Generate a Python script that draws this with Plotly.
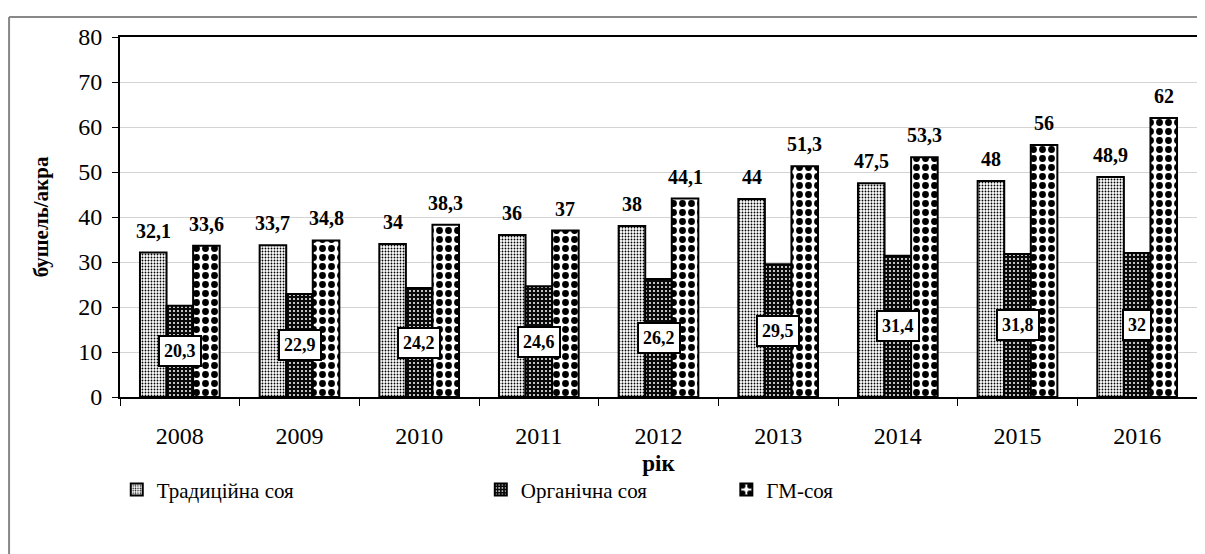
import plotly.graph_objects as go

years = ["2008", "2009", "2010", "2011", "2012", "2013", "2014", "2015", "2016"]
traditional = [32.1, 33.7, 34.0, 36.0, 38.0, 44.0, 47.5, 48.0, 48.9]
organic = [20.3, 22.9, 24.2, 24.6, 26.2, 29.5, 31.4, 31.8, 32.0]
gm = [33.6, 34.8, 38.3, 37.0, 44.1, 51.3, 53.3, 56.0, 62.0]
series_names = ["Традиційна соя", "Органічна соя", "ГМ-соя"]
y_ticks = [0, 10, 20, 30, 40, 50, 60, 70, 80]

FONT = "Liberation Serif"


def fmt(v):
    s = ("%g" % v)
    return s.replace(".", ",")


fig = go.Figure()

patterns = [
    dict(shape=".", size=3, solidity=0.3, fgcolor="black", bgcolor="white", fillmode="replace"),
    dict(shape=".", size=4, solidity=0.2, fgcolor="white", bgcolor="#0a0a0a", fillmode="replace"),
    dict(shape=".", size=9, solidity=0.45, fgcolor="black", bgcolor="white", fillmode="replace"),
]
data = [traditional, organic, gm]
legends = ["legend", "legend2", "legend3"]

for name, vals, pat, lg in zip(series_names, data, patterns, legends):
    fig.add_trace(go.Bar(
        x=years, y=vals, name=name, legend=lg, showlegend=True,
        marker=dict(color="white", pattern=pat, line=dict(color="black", width=2)),
        hoverinfo="skip",
    ))

bargap = 0.334
bar_px = 1077 / len(years) * (1 - bargap) / 3

annotations = []
for i, (t, o, g) in enumerate(zip(traditional, organic, gm)):
    annotations.append(dict(x=i, y=t, text="<b>%s</b>" % fmt(t), showarrow=False,
                            xshift=-bar_px, yshift=22, yanchor="middle",
                            font=dict(family=FONT, size=20, color="black")))
    annotations.append(dict(x=i, y=g, text="<b>%s</b>" % fmt(g), showarrow=False,
                            xshift=bar_px, yshift=22, yanchor="middle",
                            font=dict(family=FONT, size=20, color="black")))
    annotations.append(dict(x=i, y=o / 2, text="<b>%s</b>" % fmt(o), showarrow=False,
                            yanchor="middle", bgcolor="white", bordercolor="black",
                            borderwidth=2, borderpad=4,
                            font=dict(family=FONT, size=18, color="black")))

legend_common = dict(orientation="h", yanchor="middle", xanchor="left",
                     font=dict(family=FONT, size=21, color="black"),
                     bgcolor="rgba(0,0,0,0)", itemwidth=30)

# page body has an 8px margin, so the figure is laid out 8px smaller/offset
fig.update_layout(
    width=1197, height=546,
    margin=dict(l=112, r=8, t=29, b=157),
    paper_bgcolor="white", plot_bgcolor="white",
    barmode="group", bargap=bargap, bargroupgap=0,
    font=dict(family=FONT, size=20, color="black"),
    annotations=annotations,
    showlegend=True,
    legend=dict(x=-0.003, y=-0.258, **legend_common),
    legend2=dict(x=0.335, y=-0.258, **legend_common),
    legend3=dict(x=0.563, y=-0.258, **legend_common),
    xaxis=dict(
        type="category", range=[-0.5, len(years) - 0.5], autorange=False,
        showline=True, linecolor="black", linewidth=2, mirror=True,
        ticks="outside", tickson="boundaries", ticklen=7, tickcolor="black", tickwidth=1,
        tickangle=0, automargin=False, ticklabelstandoff=16,
        tickfont=dict(family=FONT, size=24, color="black"),
        title=dict(text="<b>рік</b>", font=dict(family=FONT, size=23, color="black"), standoff=7),
        showgrid=False,
    ),
    yaxis=dict(
        range=[0, 80], autorange=False, tickvals=y_ticks, ticktext=[str(v) for v in y_ticks],
        showline=True, linecolor="black", linewidth=2, mirror=True,
        ticks="outside", ticklen=6, tickcolor="black", tickwidth=1, automargin=False,
        ticklabelstandoff=5,
        tickfont=dict(family=FONT, size=24, color="black"),
        showgrid=True, gridcolor="#d4d4d4", gridwidth=1,
        title=dict(text="<b>бушель/акра</b>", font=dict(family=FONT, size=21, color="black"), standoff=24),
        zeroline=False,
    ),
    shapes=[
        dict(type="line", xref="paper", yref="paper", x0=-0.103, x1=-0.103, y0=1.0556, y1=-0.45,
             line=dict(color="#888888", width=2)),
        dict(type="line", xref="paper", yref="paper", x0=-0.103, x1=1.02, y0=1.0556, y1=1.0556,
             line=dict(color="#888888", width=2)),
    ],
)

fig.write_html("out.html")
